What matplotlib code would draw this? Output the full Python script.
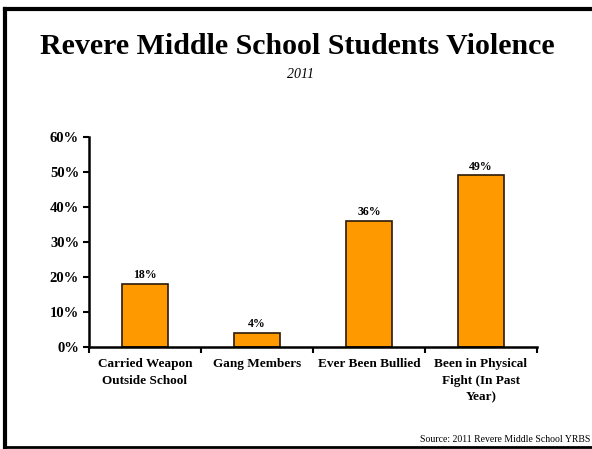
import matplotlib.pyplot as plt
from matplotlib.lines import Line2D
import numpy as np

categories = ["Carried Weapon\nOutside School", "Gang Members", "Ever Been Bullied",
              "Been in Physical\nFight (In Past\nYear)"]
values = [18, 4, 36, 49]
yticks = [0, 10, 20, 30, 40, 50, 60]

plt.rcParams['font.family'] = ['Liberation Serif', 'DejaVu Serif']

fig = plt.figure(figsize=(5.92, 4.49), dpi=100)
ax = fig.add_axes([0.150, 0.227, 0.757, 0.468])

x = np.arange(len(categories))
ax.bar(x, values, width=0.41, color='#FF9900', edgecolor='#2a1a0a', linewidth=1.2)
for xi, v in zip(x, values):
    ax.text(xi, v + 0.8, f"{v}%", ha='center', va='bottom', fontsize=8.5, fontweight='bold')

ax.set_xlim(-0.5, len(categories) - 0.5)
ax.set_ylim(0, 60)
ax.set_yticks(yticks)
ax.set_yticklabels([f"{t}%" for t in yticks], fontsize=10.5, fontweight='bold')
ax.set_xticks(np.arange(len(categories) + 1) - 0.5)
ax.set_xticklabels([])
ax.set_xticks(x, minor=True)
ax.set_xticklabels(categories, minor=True, fontsize=9.5, fontweight='bold', linespacing=1.5)
ax.tick_params(axis='x', which='minor', length=0, pad=8)
ax.tick_params(axis='x', which='major', direction='out', length=4, width=1.5)
ax.tick_params(axis='y', direction='out', length=4, width=1.5, pad=3)
for s in ['top', 'right']:
    ax.spines[s].set_visible(False)
for s in ['left', 'bottom']:
    ax.spines[s].set_linewidth(1.8)

fig.text(0.503, 0.896, "Revere Middle School Students Violence", ha='center', va='center',
         fontsize=21.5, fontweight='bold')
fig.text(0.507, 0.833, "2011", ha='center', va='center', fontsize=10, style='italic')
fig.text(0.997, 0.012, "Source: 2011 Revere Middle School YRBS", ha='right', va='bottom', fontsize=7)

# slide frame
fig.add_artist(Line2D([0.008, 0.008], [0.005, 0.98], color='black', linewidth=3))
fig.add_artist(Line2D([0.008, 1.0], [0.98, 0.98], color='black', linewidth=3))
fig.add_artist(Line2D([0.008, 1.0], [0.005, 0.005], color='black', linewidth=2))

fig.savefig("out.png", dpi=100)
